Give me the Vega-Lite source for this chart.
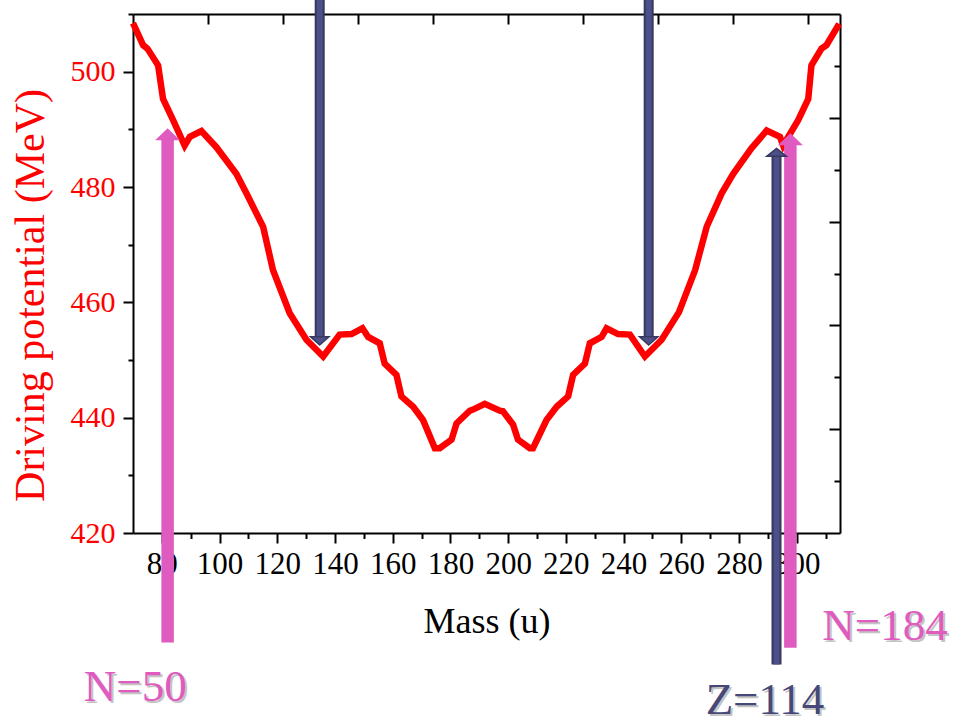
{
  "$schema": "https://vega.github.io/schema/vega-lite/v6.json",
  "width": 707,
  "height": 519,
  "autosize": "none",
  "padding": {"left": 133, "top": 14, "right": 116, "bottom": 190},
  "background": "white",
  "config": {
    "view": {"stroke": null},
    "font": "Liberation Serif",
    "axis": {"labelFont": "Liberation Serif", "titleFont": "Liberation Serif", "grid": false},
    "text": {"font": "Liberation Serif"}
  },
  "datasets": {
    "curve": [
      {"mass": 70, "dp": 508.4}, {"mass": 73.5, "dp": 504.6}, {"mass": 75, "dp": 504.0},
      {"mass": 78.7, "dp": 501.1}, {"mass": 80.4, "dp": 495.3}, {"mass": 83.9, "dp": 491.6},
      {"mass": 87.9, "dp": 487.2}, {"mass": 89.7, "dp": 488.7}, {"mass": 93.7, "dp": 489.7},
      {"mass": 98.9, "dp": 486.9}, {"mass": 105.8, "dp": 482.3}, {"mass": 109.3, "dp": 478.9},
      {"mass": 115.1, "dp": 473.1}, {"mass": 118.5, "dp": 465.6}, {"mass": 124.3, "dp": 458.1},
      {"mass": 130.1, "dp": 453.5}, {"mass": 135.9, "dp": 450.6}, {"mass": 141.6, "dp": 454.4},
      {"mass": 145.7, "dp": 454.5}, {"mass": 149.5, "dp": 455.5}, {"mass": 151.5, "dp": 454.0},
      {"mass": 155.5, "dp": 452.9}, {"mass": 157.2, "dp": 449.4}, {"mass": 161.3, "dp": 447.4},
      {"mass": 163.0, "dp": 443.7}, {"mass": 167.1, "dp": 441.9}, {"mass": 170.5, "dp": 439.6},
      {"mass": 174.6, "dp": 434.7}, {"mass": 176.3, "dp": 434.7}, {"mass": 180.4, "dp": 436.2},
      {"mass": 182.1, "dp": 439.0}, {"mass": 186.7, "dp": 441.2}, {"mass": 187.8, "dp": 441.4},
      {"mass": 191.9, "dp": 442.4}, {"mass": 197.1, "dp": 441.2}, {"mass": 198.2, "dp": 441.1},
      {"mass": 201.7, "dp": 438.8}, {"mass": 203.4, "dp": 436.2}, {"mass": 207.5, "dp": 434.7},
      {"mass": 208.6, "dp": 434.7}, {"mass": 213.3, "dp": 439.6}, {"mass": 216.8, "dp": 441.9},
      {"mass": 220.8, "dp": 443.7}, {"mass": 222.5, "dp": 447.4}, {"mass": 226.6, "dp": 449.4},
      {"mass": 228.3, "dp": 452.9}, {"mass": 232.4, "dp": 454.0}, {"mass": 234.1, "dp": 455.5},
      {"mass": 238.1, "dp": 454.5}, {"mass": 242.2, "dp": 454.4}, {"mass": 247.4, "dp": 450.6},
      {"mass": 253.2, "dp": 453.5}, {"mass": 259.2, "dp": 458.3}, {"mass": 264.8, "dp": 465.6},
      {"mass": 268.8, "dp": 473.1}, {"mass": 274.0, "dp": 478.9}, {"mass": 278.0, "dp": 482.3},
      {"mass": 284.3, "dp": 486.7}, {"mass": 289.6, "dp": 489.8}, {"mass": 294.2, "dp": 488.7},
      {"mass": 295.3, "dp": 487.2}, {"mass": 300.5, "dp": 491.6}, {"mass": 304.0, "dp": 495.3},
      {"mass": 305.1, "dp": 501.1}, {"mass": 308.6, "dp": 504.0}, {"mass": 310.3, "dp": 504.6},
      {"mass": 314.7, "dp": 508.3}
    ],
    "arrows": [
      {"id": "N50", "kind": "pink", "dir": "up", "x": 82.0, "from": 401.0, "to": 488.2, "tip": 490.2},
      {"id": "N184", "kind": "pink", "dir": "up", "x": 297.8, "from": 400.1, "to": 487.3, "tip": 489.3},
      {"id": "Z114", "kind": "navy", "dir": "up", "x": 293.0, "from": 397.2, "to": 485.4, "tip": 486.7},
      {"id": "A", "kind": "navy", "dir": "down", "x": 134.7, "from": 512.5, "to": 453.9, "tip": 452.6},
      {"id": "B", "kind": "navy", "dir": "down", "x": 248.7, "from": 512.5, "to": 453.9, "tip": 452.6}
    ],
    "labels": [
      {"t": "N=50", "x": 70.8, "y": 390.84, "c": "pink"},
      {"t": "N=184", "x": 330.6, "y": 401.5, "c": "pink"},
      {"t": "Z=114", "x": 289.0, "y": 388.6, "c": "navy"}
    ]
  },
  "layer": [
    {
      "data": {"name": "curve"},
      "mark": {"type": "line", "color": "#ff0000", "strokeWidth": 6.5, "strokeJoin": "miter", "clip": false},
      "encoding": {
        "x": {
          "field": "mass", "type": "quantitative",
          "scale": {"domain": [70, 315], "nice": false, "zero": false},
          "axis": {
            "orient": "bottom",
            "values": [80, 90, 100, 110, 120, 130, 140, 150, 160, 170, 180, 190, 200, 210, 220, 230, 240, 250, 260, 270, 280, 290, 300, 310],
            "labelExpr": "datum.value % 20 === 0 ? datum.label : ''",
            "tickSize": {"condition": {"test": "datum.value % 20 === 0", "value": 10}, "value": 5.5},
            "labelFont": "Liberation Serif",
            "labelFontSize": 31, "labelColor": "black", "labelPadding": 6,
            "labelFlush": false, "labelOverlap": false, "labelBound": false,
            "domainColor": "black", "domainWidth": 2, "tickColor": "black", "tickWidth": 2,
            "title": "Mass (u)", "titleFont": "Liberation Serif", "titleFontSize": 36, "titleFontWeight": "normal", "titleColor": "black",
            "titleY": 99, "titleBaseline": "alphabetic"
          }
        },
        "y": {
          "field": "dp", "type": "quantitative",
          "scale": {"domain": [420, 510], "nice": false, "zero": false},
          "axis": {
            "orient": "left",
            "values": [420, 430, 440, 450, 460, 470, 480, 490, 500, 510],
            "labelExpr": "datum.value % 20 === 0 ? datum.label : ''",
            "tickSize": {"condition": {"test": "datum.value % 20 === 0", "value": 10}, "value": 5},
            "labelFont": "Liberation Serif",
            "labelFontSize": 30, "labelColor": "#ff0000", "labelPadding": 8,
            "labelFlush": false, "labelOverlap": false, "labelBound": false,
            "domainColor": "black", "domainWidth": 2, "tickColor": "black", "tickWidth": 2,
            "title": "Driving potential (MeV)", "titleFont": "Liberation Serif", "titleFontSize": 42, "titleFontWeight": "normal",
            "titleColor": "#ff0000", "titleAngle": 270, "titleX": -90, "titleY": 281,
            "titleAlign": "center", "titleBaseline": "alphabetic"
          }
        }
      }
    },
    {
      "data": {"name": "arrows"},
      "transform": [{"filter": "datum.kind === 'navy'"}],
      "mark": {"type": "rule", "color": "#36385f", "strokeWidth": 10, "clip": false},
      "encoding": {
        "x": {
          "field": "x", "type": "quantitative",
          "axis": {
            "orient": "top",
            "values": [96, 122, 148, 174, 200, 226, 252, 278, 304],
            "tickSize": -10, "labels": false, "title": null,
            "domainColor": "black", "domainWidth": 2, "tickColor": "black", "tickWidth": 2
          }
        },
        "y": {
          "field": "from", "type": "quantitative",
          "axis": {
            "orient": "right",
            "values": [429, 438, 447, 456, 465, 474, 483, 492, 501],
            "tickSize": {"condition": {"test": "indexof([438, 456, 474, 492], datum.value) >= 0", "value": -11}, "value": -6},
            "labels": false, "title": null,
            "domainColor": "black", "domainWidth": 2, "tickColor": "black", "tickWidth": 2
          }
        },
        "y2": {"field": "to"}
      }
    },
    {
      "data": {"name": "arrows"},
      "transform": [{"filter": "datum.kind === 'navy'"}],
      "mark": {"type": "rule", "color": "#4d5088", "strokeWidth": 6, "clip": false},
      "encoding": {
        "x": {"field": "x", "type": "quantitative", "axis": null},
        "y": {"field": "from", "type": "quantitative", "axis": null},
        "y2": {"field": "to"}
      }
    },
    {
      "data": {"name": "arrows"},
      "transform": [{"filter": "datum.kind === 'pink'"}],
      "mark": {"type": "rule", "color": "#e05bc0", "strokeWidth": 12.5, "clip": false},
      "encoding": {
        "x": {"field": "x", "type": "quantitative", "axis": null},
        "y": {"field": "from", "type": "quantitative", "axis": null},
        "y2": {"field": "to"}
      }
    },
    {
      "data": {"name": "arrows"},
      "transform": [{"filter": "datum.kind === 'pink'"}],
      "mark": {"type": "point", "shape": "M0,0 L1,0.96 L-1,0.96 Z", "size": 625, "filled": true, "opacity": 1, "color": "#e05bc0", "clip": false},
      "encoding": {
        "x": {"field": "x", "type": "quantitative", "axis": null},
        "y": {"field": "tip", "type": "quantitative", "axis": null}
      }
    },
    {
      "data": {"name": "arrows"},
      "transform": [{"filter": "datum.kind === 'navy' && datum.dir === 'up'"}],
      "mark": {"type": "point", "shape": "M0,0 L1,0.8 L-1,0.8 Z", "size": 380, "filled": true, "opacity": 1, "fill": "#4d5088", "stroke": "#36385f", "strokeWidth": 1.5, "clip": false},
      "encoding": {
        "x": {"field": "x", "type": "quantitative", "axis": null},
        "y": {"field": "tip", "type": "quantitative", "axis": null}
      }
    },
    {
      "data": {"name": "arrows"},
      "transform": [{"filter": "datum.kind === 'navy' && datum.dir === 'down'"}],
      "mark": {"type": "point", "shape": "M0,0 L1,-0.9 L-1,-0.9 Z", "size": 340, "filled": true, "opacity": 1, "fill": "#4d5088", "stroke": "#36385f", "strokeWidth": 1.5, "clip": false},
      "encoding": {
        "x": {"field": "x", "type": "quantitative", "axis": null},
        "y": {"field": "tip", "type": "quantitative", "axis": null}
      }
    },
    {
      "data": {"name": "labels"},
      "mark": {"type": "text", "font": "Liberation Serif", "fontSize": 45, "align": "center", "baseline": "alphabetic", "dx": 2, "dy": 2, "color": "#c4c4c4", "clip": false},
      "encoding": {
        "x": {"field": "x", "type": "quantitative", "axis": null},
        "y": {"field": "y", "type": "quantitative", "axis": null},
        "text": {"field": "t"}
      }
    },
    {
      "data": {"name": "labels"},
      "mark": {"type": "text", "font": "Liberation Serif", "fontSize": 45, "align": "center", "baseline": "alphabetic", "clip": false},
      "encoding": {
        "x": {"field": "x", "type": "quantitative", "axis": null},
        "y": {"field": "y", "type": "quantitative", "axis": null},
        "text": {"field": "t"},
        "color": {"field": "c", "type": "nominal", "scale": {"domain": ["pink", "navy"], "range": ["#e05bc0", "#464878"]}, "legend": null}
      }
    }
  ],
  "resolve": {"axis": {"x": "independent", "y": "independent"}}
}
